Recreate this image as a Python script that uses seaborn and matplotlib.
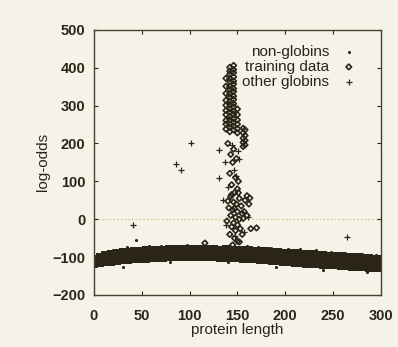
import numpy as np
import pandas as pd
import matplotlib.pyplot as plt
import seaborn as sns
from matplotlib.markers import MarkerStyle

# ---------- data ----------
# non-globins: dense band around -100, three rows across the length range
band_len = [0, 6, 12, 18, 24, 30, 36, 42, 48, 54, 60, 66, 72, 78, 84, 90, 96,
            102, 108, 114, 120, 126, 132, 138, 144, 150, 156, 162, 168, 174,
            180, 186, 192, 198, 204, 210, 216, 222, 228, 234, 240, 246, 252,
            258, 264, 270, 276, 282, 288, 294, 300]
band_hi = [-104, -99, -95, -91, -89, -87, -86, -84, -83, -82, -81, -80, -80,
           -79, -79, -78, -78, -78, -79, -78, -79, -79, -80, -79, -80, -80,
           -81, -82, -83, -84, -85, -86, -87, -88, -89, -90, -91, -92, -93,
           -94, -95, -96, -97, -98, -99, -100, -101, -102, -103, -104, -105]
band_mid = [-112, -108, -105, -102, -100, -98, -97, -95, -94, -93, -92, -91,
            -91, -90, -90, -89, -89, -89, -89, -89, -89, -90, -90, -90, -91,
            -91, -92, -93, -94, -95, -96, -97, -99, -100, -101, -102, -103,
            -104, -105, -106, -107, -108, -109, -110, -111, -112, -113, -114,
            -115, -116, -117]
band_lo = [-118, -116, -114, -112, -111, -109, -108, -106, -105, -104, -103,
           -102, -102, -101, -101, -100, -100, -100, -101, -100, -101, -101,
           -102, -102, -103, -103, -104, -105, -106, -107, -108, -110, -111,
           -113, -114, -115, -116, -117, -118, -119, -120, -121, -122, -123,
           -124, -125, -126, -127, -128, -129, -130]
# sparse non-globins above/below the band
sparse_len = [20, 35, 44, 58, 70, 88, 97, 110, 122, 135, 160, 172, 185, 203,
              215, 232, 248, 262, 280, 295, 30, 80, 140, 190, 240, 285]
sparse_score = [-82, -74, -54, -70, -72, -71, -69, -74, -70, -72, -71, -73,
                -76, -79, -78, -82, -86, -90, -92, -94, -125, -112, -114,
                -126, -134, -140]

# training data (diamonds)
train_len = [142, 142, 142, 142, 142, 142, 142, 142, 142, 142, 142, 142, 142,
             142, 142, 142, 142, 142,
             146, 146, 146, 146, 146, 146, 146, 146, 146, 146, 146, 146, 146,
             146, 146, 146, 146, 146,
             138, 138, 138, 138, 138, 138, 138, 138, 138, 138,
             150, 150, 150, 150, 150, 150,
             156, 156, 156, 156, 156, 158, 158, 158, 158,
             140, 146, 143, 149, 145, 142, 148, 151, 144, 150, 147, 143, 152,
             146, 149, 154, 141, 145, 150, 155, 143, 148, 152, 139, 146, 150,
             144, 153, 148, 142, 147, 150, 145, 143, 160, 163, 158, 162, 157,
             160, 164, 170, 155, 152, 116, 151, 147, 144, 140, 156]
train_score = [401, 391, 383, 371, 363, 351, 343, 331, 323, 311, 303, 291,
               283, 271, 263, 251, 243, 231,
               406, 395, 387, 376, 365, 357, 345, 337, 325, 316, 305, 297,
               285, 277, 265, 256, 246, 236,
               372, 351, 332, 314, 301, 287, 276, 261, 251, 238,
               291, 276, 262, 251, 239, 228,
               240, 228, 214, 203, 192, 236, 221, 208, 196,
               200, 185, 171, 160, 150, 121, 110, 100, 91, 80, 70, 60, 55,
               45, 40, 35, 30, 25, 20, 15, 10, 5, 0, -5, -10, -15, -20, -25,
               -30, -40, -50, -58, -68, -80, 62, 56, 50, 40, 20, 10, -25,
               -23, -40, -60, -63, 70, 28, 65, 48, 2]

# other globins (plus signs)
other_len = [102, 86, 91, 41, 131, 131, 265, 137, 151, 152, 146, 149, 140,
             138, 157, 161, 135, 144, 148]
other_score = [202, 146, 131, -14, 110, 183, -47, 150, 180, 160, 130, 115,
               85, -15, -35, 5, 50, 195, -45]

# ---------- figure ----------
sns.set_style("ticks")
plt.rcParams["font.family"] = ["Liberation Sans", "DejaVu Sans"]
BG = "#f5f3e8"
INK = "#2b2419"

fig = plt.figure(figsize=(3.98, 3.47), dpi=100, facecolor=BG)
ax = fig.add_axes([0.236, 0.150, 0.721, 0.764], facecolor=BG)

band = pd.DataFrame({"length": band_len * 3,
                     "score": band_hi + band_mid + band_lo})
sparse = pd.DataFrame({"length": sparse_len, "score": sparse_score})
train = pd.DataFrame({"length": train_len, "score": train_score})
other = pd.DataFrame({"length": other_len, "score": other_score})

ax.axhline(0, color="#d9c9a0", lw=0.9, ls=(0, (1.5, 1.5)), zorder=0)

# the band is drawn with squares so the dense cloud reads as solid
sns.scatterplot(data=band, x="length", y="score", ax=ax, marker="s", s=26,
                color=INK, edgecolor=INK, linewidth=0, label="non-globins")
sns.scatterplot(data=sparse, x="length", y="score", ax=ax, marker="o", s=5,
                color=INK, linewidth=0)
sns.scatterplot(data=train, x="length", y="score", ax=ax, marker="D", s=8,
                facecolor="none", edgecolor=INK, linewidth=1.2,
                label="training data")
sns.scatterplot(data=other, x="length", y="score", ax=ax, marker="+", s=22,
                color=INK, linewidth=0.9, label="other globins")

ax.set_xlim(0, 300)
ax.set_ylim(-200, 500)
ax.set_xticks(range(0, 301, 50))
ax.set_yticks(range(-200, 501, 100))
ax.tick_params(direction="in", length=3, width=0.8, colors=INK,
               labelsize=10.5, top=True, right=True)
ax.tick_params(axis="x", pad=10)
ax.tick_params(axis="y", pad=6)
for lab in ax.get_xticklabels() + ax.get_yticklabels():
    lab.set_fontweight("bold")
for sp in ax.spines.values():
    sp.set_visible(True)
    sp.set_color("#4a4030")
    sp.set_linewidth(1.0)

ax.set_xlabel("protein length", fontsize=11, color=INK, labelpad=0)
ax.set_ylabel("log-odds", fontsize=11, color=INK, labelpad=2)

leg = ax.legend(loc="upper right", bbox_to_anchor=(0.968, 1.0),
                markerfirst=False, frameon=False, fontsize=11,
                handletextpad=0.8, labelspacing=0.05, borderaxespad=0.6,
                handlelength=1.0)
for t in leg.get_texts():
    t.set_color(INK)
    t.set_ha("right")
# legend symbol for non-globins is a small dot
dot = MarkerStyle("o")
leg.legend_handles[0].set_paths([dot.get_path().transformed(dot.get_transform())])
leg.legend_handles[0].set_sizes([5])

fig.savefig("out.png", dpi=100, facecolor=BG)
